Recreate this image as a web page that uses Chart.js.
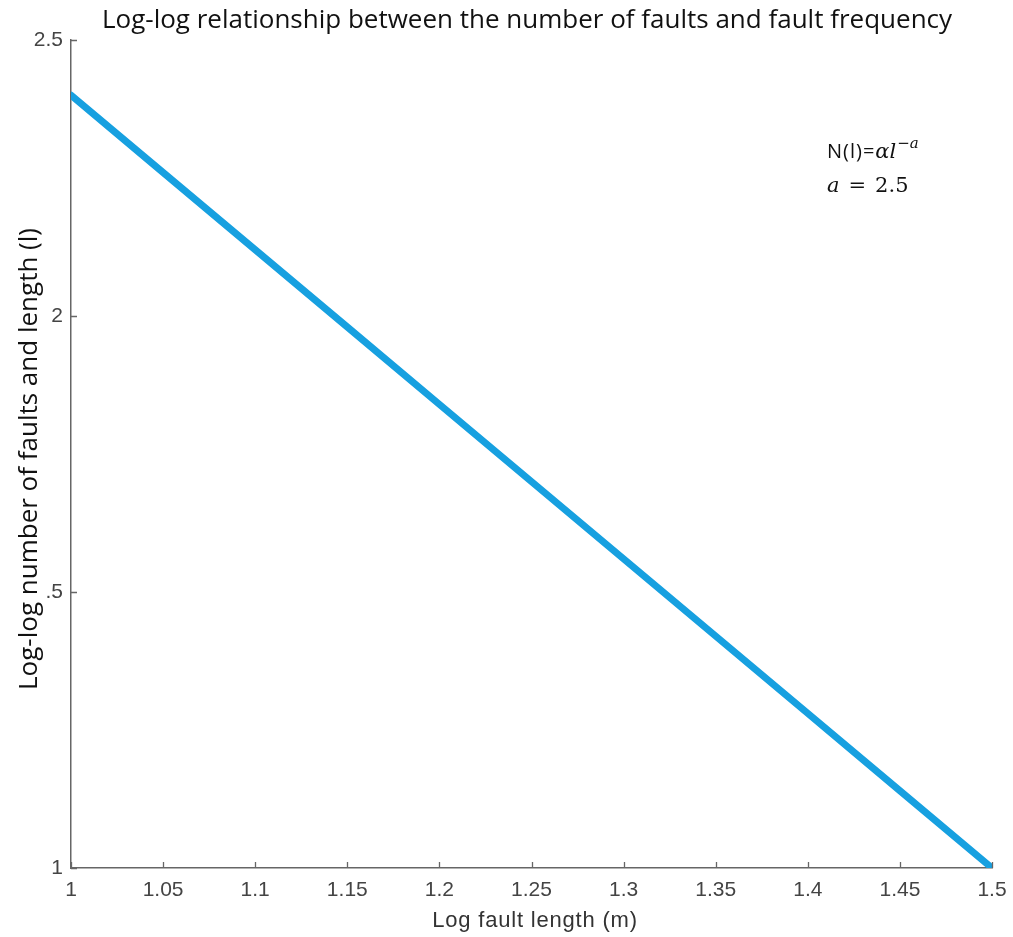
<!DOCTYPE html>
<html>
<head>
<meta charset="utf-8">
<title>Fault length vs count</title>
<script src="https://cdn.jsdelivr.net/npm/chart.js@4/dist/chart.umd.min.js"></script>
<style>
  html, body { margin: 0; padding: 0; background: #fff; }
  #wrap { width: 1013px; height: 937px; position: relative; }
</style>
</head>
<body>
<div id="wrap"><canvas id="faultChart"></canvas></div>
<script>
// log fault length and log-log count
const logLength = [1, 1.05, 1.1, 1.15, 1.2, 1.25, 1.3, 1.35, 1.4, 1.45, 1.5];
const logCount = [2.4, 2.26, 2.12, 1.98, 1.84, 1.70, 1.56, 1.42, 1.28, 1.14, 1.0];

const xTicks = [1, 1.05, 1.1, 1.15, 1.2, 1.25, 1.3, 1.35, 1.4, 1.45, 1.5];
const yTicks = [1, 1.5, 2, 2.5];
const yTickLabels = ["1", ".5", "2", "2.5"];

const titleText = "Log-log relationship between the number of faults and fault frequency";
const xTitle = "Log fault length (m)";
const yTitle = "Log-log number of faults and length (l)";

const axisColor = "#666";

// inward tick marks, titles and the formula box
const decor = {
  id: "decor",
  afterDraw(chart) {
    const ctx = chart.ctx;
    const xs = chart.scales.x, ys = chart.scales.y;
    const area = chart.chartArea;
    ctx.save();
    ctx.strokeStyle = axisColor;
    ctx.lineWidth = 1.3;
    ctx.beginPath();
    xTicks.forEach(v => {
      const px = Math.round(xs.getPixelForValue(v)) + 0.5;
      ctx.moveTo(px, area.bottom);
      ctx.lineTo(px, area.bottom - 6);
    });
    yTicks.forEach(v => {
      const py = Math.round(ys.getPixelForValue(v)) + 0.5;
      ctx.moveTo(area.left, py);
      ctx.lineTo(area.left + 6, py);
    });
    ctx.stroke();

    ctx.fillStyle = "#111";
    ctx.textAlign = "center";
    ctx.textBaseline = "alphabetic";
    ctx.font = "26px 'Open Sans', 'Noto Sans', sans-serif";
    ctx.fillText(titleText, 527, 28);

    ctx.fillStyle = "#333";
    ctx.font = "22px 'Liberation Sans', Arial, sans-serif";
    ctx.letterSpacing = "0.8px";
    ctx.fillText(xTitle, 535, 927);
    ctx.letterSpacing = "0px";

    ctx.save();
    ctx.translate(37, 459);
    ctx.rotate(-Math.PI / 2);
    ctx.fillStyle = "#111";
    ctx.font = "26px 'Open Sans', 'Noto Sans', sans-serif";
    ctx.fillText(yTitle, 0, 0);
    ctx.restore();

    // N(l)=αl^-a and a = 2.5
    ctx.textAlign = "left";
    ctx.fillStyle = "#111";
    let x = 827;
    ctx.font = "20px 'Open Sans', 'Noto Sans', sans-serif";
    ctx.letterSpacing = "1px";
    ctx.fillText("N(l)=", x, 158);
    x += ctx.measureText("N(l)=").width;
    ctx.letterSpacing = "0px";
    ctx.font = "italic 21px 'DejaVu Serif', serif";
    ctx.fillText("αl", x, 158);
    x += ctx.measureText("αl").width + 1;
    ctx.font = "15px 'DejaVu Serif', serif";
    ctx.fillText("−", x, 148);
    x += ctx.measureText("−").width;
    ctx.font = "italic 15px 'DejaVu Serif', serif";
    ctx.fillText("a", x, 148);

    x = 827;
    ctx.font = "italic 21px 'DejaVu Serif', serif";
    ctx.fillText("a", x, 192);
    x += ctx.measureText("a").width + 9;
    ctx.font = "21px 'DejaVu Serif', serif";
    ctx.fillText("=", x, 192);
    x += ctx.measureText("=").width + 9;
    ctx.fillText("2.5", x, 192);
    ctx.restore();
  }
};

new Chart("faultChart", {
  type: "line",
  data: {
    datasets: [{
      data: logLength.map((v, i) => ({x: v, y: logCount[i]})),
      borderColor: "#17a0e0",
      backgroundColor: "#17a0e0",
      borderWidth: 7,
      pointRadius: 0,
      fill: false,
      tension: 0,
      borderCapStyle: "round"
    }]
  },
  options: {
    responsive: true,
    maintainAspectRatio: false,
    animation: false,
    layout: {padding: {top: 40, right: 21, left: 0, bottom: 0}},
    plugins: {legend: {display: false}, tooltip: {enabled: false}},
    scales: {
      x: {
        type: "linear",
        min: 1, max: 1.5,
        afterFit: s => { s.height = 69; s.paddingLeft = 0; s.paddingRight = 0; },
        afterBuildTicks: s => { s.ticks = xTicks.map(v => ({value: v})); },
        grid: {display: false, drawTicks: false},
        border: {display: true, color: axisColor, width: 1.5},
        ticks: {
          padding: 10,
          color: "#444",
          font: {family: "'Liberation Sans', Arial, sans-serif", size: 21},
          maxRotation: 0,
          callback: v => String(v)
        }
      },
      y: {
        type: "linear",
        min: 1, max: 2.5,
        afterFit: s => { s.width = 71; },
        afterBuildTicks: s => { s.ticks = yTicks.map(v => ({value: v})); },
        grid: {display: false, drawTicks: false},
        border: {display: true, color: axisColor, width: 1.5},
        ticks: {
          padding: 8,
          color: "#444",
          font: {family: "'Liberation Sans', Arial, sans-serif", size: 21},
          callback: v => yTickLabels[yTicks.indexOf(v)]
        }
      }
    }
  },
  plugins: [decor]
});
</script>
</body>
</html>
